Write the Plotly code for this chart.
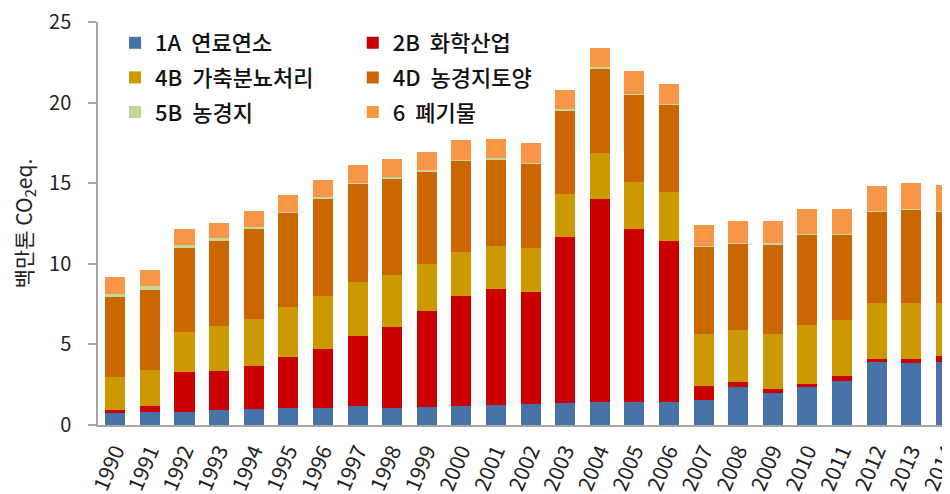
import plotly.graph_objects as go

years = [str(y) for y in range(1990, 2015)]

# segment values, 백만톤 CO2eq.
fuel_1a = [0.77, 0.79, 0.83, 0.91, 0.97, 1.04, 1.08, 1.18, 1.04, 1.12, 1.20, 1.24, 1.33,
           1.37, 1.41, 1.45, 1.45, 1.54, 2.36, 1.97, 2.36, 2.74, 3.88, 3.84, 3.92]
chem_2b = [0.16, 0.39, 2.47, 2.47, 2.66, 3.17, 3.62, 4.33, 5.01, 5.95, 6.78, 7.20, 6.94,
           10.28, 12.64, 10.72, 9.95, 0.89, 0.29, 0.27, 0.21, 0.33, 0.20, 0.24, 0.37]
manure_4b = [2.07, 2.24, 2.46, 2.78, 2.94, 3.13, 3.32, 3.36, 3.28, 2.94, 2.78, 2.67, 2.68,
             2.65, 2.80, 2.90, 3.03, 3.19, 3.22, 3.38, 3.61, 3.46, 3.49, 3.49, 3.28]
soil_4d = [4.92, 4.96, 5.24, 5.28, 5.64, 5.82, 6.06, 6.10, 5.99, 5.72, 5.62, 5.39, 5.28,
           5.18, 5.27, 5.45, 5.43, 5.43, 5.39, 5.57, 5.64, 5.29, 5.68, 5.78, 5.68]
cropland_5b = [0.21, 0.25, 0.15, 0.13, 0.06, 0.04, 0.06, 0.06, 0.06, 0.11, 0.04, 0.06, 0.04,
               0.11, 0.08, 0.04, 0.04, 0.06, 0.04, 0.11, 0.04, 0.04, 0.04, 0.06, 0.04]
waste_6 = [1.05, 0.97, 1.00, 0.99, 1.00, 1.08, 1.03, 1.10, 1.10, 1.12, 1.24, 1.16, 1.25,
           1.22, 1.20, 1.37, 1.23, 1.31, 1.34, 1.34, 1.51, 1.51, 1.51, 1.62, 1.61]

series = [
    ("1A  연료연소", fuel_1a, "#4672A8", "legend"),
    ("2B  화학산업", chem_2b, "#CC0000", "legend2"),
    ("4B  가축분뇨처리", manure_4b, "#CC9900", "legend"),
    ("4D  농경지토양", soil_4d, "#CC6600", "legend2"),
    ("5B  농경지", cropland_5b, "#C3D69B", "legend"),
    ("6  폐기물", waste_6, "#F79646", "legend2"),
]

font = "Noto Sans CJK KR"

fig = go.Figure()
for i, (name, vals, color, leg) in enumerate(series):
    fig.add_trace(go.Bar(
        x=years, y=vals, name=name, legend=leg, legendgroup=str(i),
        marker=dict(color=color, line=dict(width=0)),
    ))

legend_style = dict(
    font=dict(family=font, size=22, color="#111111", weight=500),
    bgcolor="rgba(0,0,0,0)", yanchor="top", y=1.0,
    tracegroupgap=3, itemwidth=30,
)

# page body has an 8px margin, so the figure is 8px smaller than the window
fig.update_layout(
    width=942, height=486,
    margin=dict(l=90, r=0, t=14, b=69),
    barmode="stack", bargap=0.42,
    plot_bgcolor="white", paper_bgcolor="white",
    font=dict(family=font, size=18, color="#222222"),
    legend=dict(x=0.02, xanchor="left", **legend_style),
    legend2=dict(x=0.299, xanchor="left", **legend_style),
    xaxis=dict(
        type="category", range=[-0.5, 24.12],
        tickangle=-67, ticks="", showline=True, linecolor="#A6A6A6", linewidth=1.5,
        tickfont=dict(size=21), ticklabelstandoff=4, automargin=False,
    ),
    yaxis=dict(
        range=[0, 25], dtick=5, showgrid=False, zeroline=False,
        showline=True, linecolor="#A6A6A6", linewidth=1.5,
        ticks="outside", ticklen=8, tickcolor="#A6A6A6", tickwidth=1.5,
        tickfont=dict(size=20), ticklabelstandoff=13, automargin=False,
        ticklabeloverflow="allow",
        title=dict(text="백만톤 CO<sub>2</sub>eq.", font=dict(size=21), standoff=15),
    ),
)

fig.write_html("out.html")
